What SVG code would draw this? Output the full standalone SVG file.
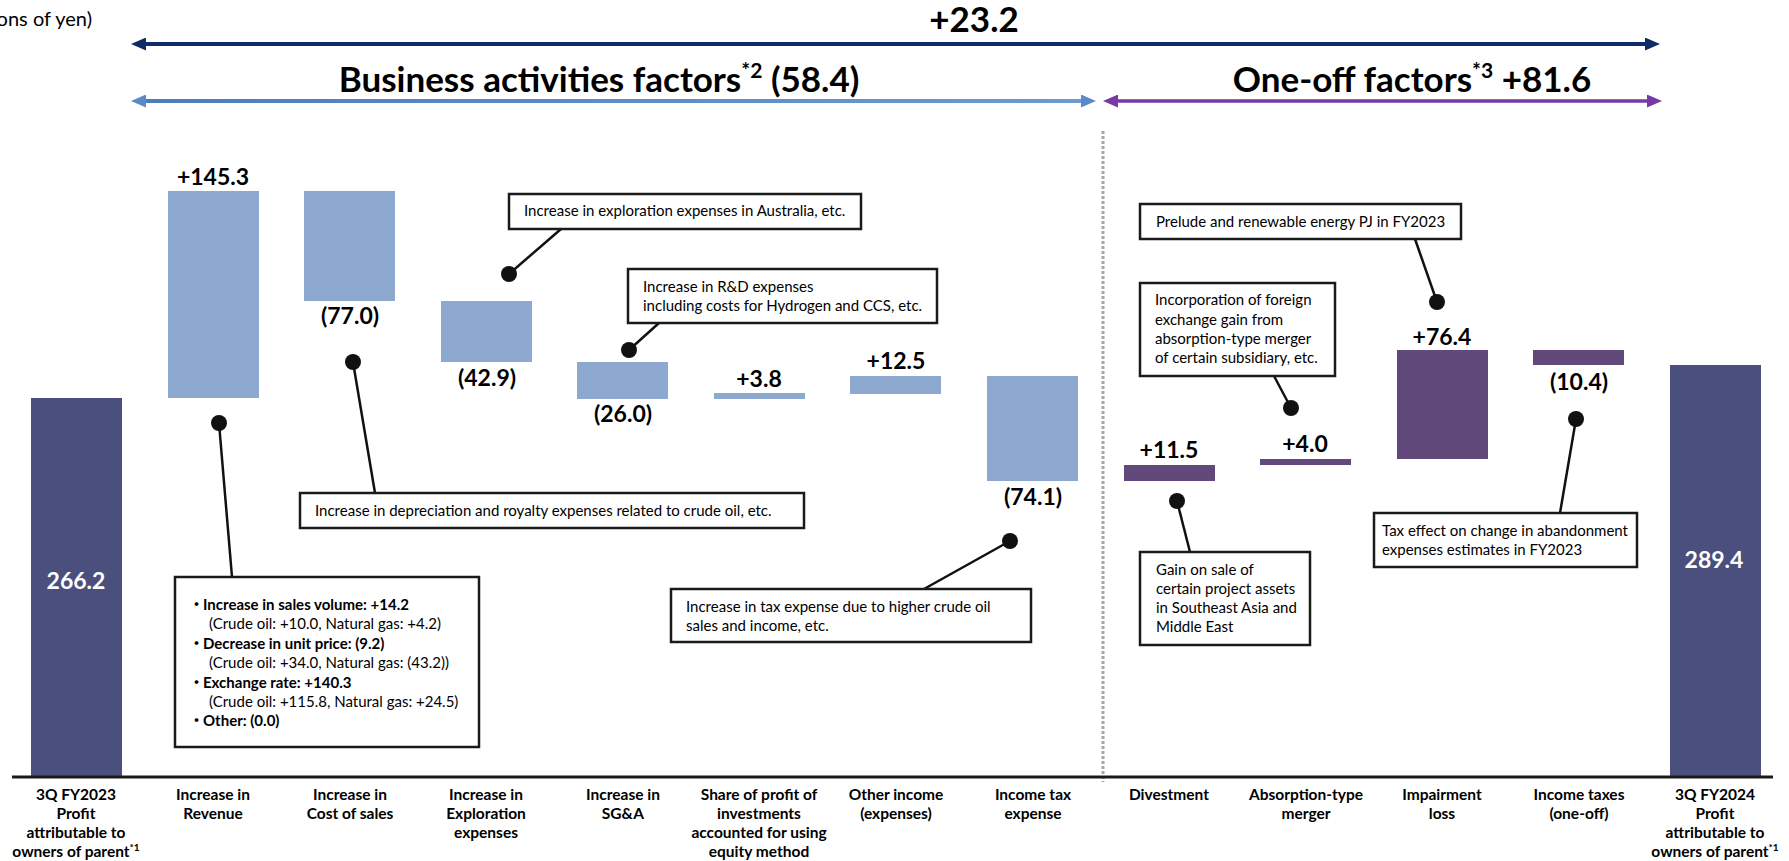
<svg xmlns="http://www.w3.org/2000/svg" width="1789" height="861" viewBox="0 0 1789 861">
<defs>
<style>
text{font-family:Lato,"Liberation Sans",sans-serif;fill:#000}
.t{font-size:35px;font-weight:700}
.v{font-size:23px;font-weight:700;text-anchor:middle}
.vw{fill:#fff}
.c{font-size:15.5px;font-weight:700;text-anchor:middle}
.n{font-size:15px}
.nb{font-size:15px;font-weight:700}
.jp{font-family:"Noto Sans CJK JP",sans-serif}
.lb{fill:#8EA9D0}
.dk{fill:#4B4F7D}
.pu{fill:#614A7B}
.box{fill:#fff;stroke:#1a1a1a;stroke-width:2.5}
.ld{stroke:#111;stroke-width:2.5;fill:none}
.dot{fill:#111}
</style>
<marker id="mNavy" viewBox="0 0 15 13" refX="7" refY="6.5" markerWidth="15" markerHeight="13" markerUnits="userSpaceOnUse" orient="auto-start-reverse"><path d="M0,0 L15,6.5 L0,13 z" fill="#0F2B68"/></marker>
<marker id="mBlue" viewBox="0 0 15 13" refX="7" refY="6.5" markerWidth="15" markerHeight="13" markerUnits="userSpaceOnUse" orient="auto-start-reverse"><path d="M0,0 L15,6.5 L0,13 z" fill="#5B8AC8"/></marker>
<marker id="mPurple" viewBox="0 0 15 13" refX="7" refY="6.5" markerWidth="15" markerHeight="13" markerUnits="userSpaceOnUse" orient="auto-start-reverse"><path d="M0,0 L15,6.5 L0,13 z" fill="#7639A6"/></marker>
<linearGradient id="gBlue" gradientUnits="userSpaceOnUse" x1="131" y1="0" x2="1096" y2="0"><stop offset="0" stop-color="#4A7DBE"/><stop offset="1" stop-color="#6D9AD3"/></linearGradient>
</defs>
<rect width="1789" height="861" fill="#fff"/>

<text x="92" y="26" style="font-size:20px" text-anchor="end">(Billions of yen)</text>

<g id="header-arrows">
<line x1="139" y1="44" x2="1652" y2="44" stroke="#0F2B68" stroke-width="4" marker-start="url(#mNavy)" marker-end="url(#mNavy)"/>
<line x1="139" y1="101" x2="1088" y2="101" stroke="url(#gBlue)" stroke-width="4" marker-start="url(#mBlue)" marker-end="url(#mBlue)"/>
<line x1="1111" y1="101" x2="1654" y2="101" stroke="#7639A6" stroke-width="3.5" marker-start="url(#mPurple)" marker-end="url(#mPurple)"/>
</g>
<g id="total-label"><text class="t" x="974" y="32" text-anchor="middle">+23.2</text></g>
<g id="business-label"><text class="t" x="599" y="92" text-anchor="middle">Business activities factors<tspan font-size="21" dy="-14">*2</tspan><tspan dy="14"> (58.4)</tspan></text></g>
<g id="oneoff-label"><text class="t" x="1412" y="92" text-anchor="middle">One-off factors<tspan font-size="21" dy="-14">*3</tspan><tspan dy="14"> +81.6</tspan></text></g>

<line id="divider" x1="1103" y1="131" x2="1103" y2="782" stroke="#A6A6A6" stroke-width="3" stroke-dasharray="3 2"/>

<g id="bar-fy2023">
<rect class="dk" x="31" y="398" width="91" height="379"/>
<text class="v vw" x="76" y="589">266.2</text>
<text class="c" x="76" y="800">3Q FY2023</text><text class="c" x="76" y="819">Profit</text><text class="c" x="76" y="838">attributable to</text><text class="c" x="76" y="857">owners of parent<tspan font-size="10" dy="-6">*1</tspan></text>
</g>
<g id="bar-revenue">
<rect class="lb" x="168" y="191" width="91" height="207"/>
<text class="v" x="213" y="185">+145.3</text>
<text class="c" x="213" y="800">Increase in</text><text class="c" x="213" y="819">Revenue</text>
</g>
<g id="bar-cost">
<rect class="lb" x="304" y="191" width="91" height="110"/>
<text class="v" x="350" y="324">(77.0)</text>
<text class="c" x="350" y="800">Increase in</text><text class="c" x="350" y="819">Cost of sales</text>
</g>
<g id="bar-exploration">
<rect class="lb" x="441" y="301" width="91" height="61"/>
<text class="v" x="487" y="386">(42.9)</text>
<text class="c" x="486" y="800">Increase in</text><text class="c" x="486" y="819">Exploration</text><text class="c" x="486" y="838">expenses</text>
</g>
<g id="bar-sga">
<rect class="lb" x="577" y="362" width="91" height="37"/>
<text class="v" x="623" y="422">(26.0)</text>
<text class="c" x="623" y="800">Increase in</text><text class="c" x="623" y="819">SG&amp;A</text>
</g>
<g id="bar-equity">
<rect class="lb" x="714" y="393" width="91" height="6"/>
<text class="v" x="759" y="387">+3.8</text>
<text class="c" x="759" y="800">Share of profit of</text><text class="c" x="759" y="819">investments</text><text class="c" x="759" y="838">accounted for using</text><text class="c" x="759" y="857">equity method</text>
</g>
<g id="bar-other">
<rect class="lb" x="850" y="376" width="91" height="18"/>
<text class="v" x="896" y="369">+12.5</text>
<text class="c" x="896" y="800">Other income</text><text class="c" x="896" y="819">(expenses)</text>
</g>
<g id="bar-incometax">
<rect class="lb" x="987" y="376" width="91" height="105"/>
<text class="v" x="1033" y="505">(74.1)</text>
<text class="c" x="1033" y="800">Income tax</text><text class="c" x="1033" y="819">expense</text>
</g>
<g id="bar-divestment">
<rect class="pu" x="1124" y="465" width="91" height="16"/>
<text class="v" x="1169" y="458">+11.5</text>
<text class="c" x="1169" y="800">Divestment</text>
</g>
<g id="bar-absorption">
<rect class="pu" x="1260" y="459" width="91" height="6"/>
<text class="v" x="1305" y="452">+4.0</text>
<text class="c" x="1306" y="800">Absorption-type</text><text class="c" x="1306" y="819">merger</text>
</g>
<g id="bar-impairment">
<rect class="pu" x="1397" y="350" width="91" height="109"/>
<text class="v" x="1442" y="345">+76.4</text>
<text class="c" x="1442" y="800">Impairment</text><text class="c" x="1442" y="819">loss</text>
</g>
<g id="bar-incometaxes">
<rect class="pu" x="1533" y="350" width="91" height="15"/>
<text class="v" x="1579" y="390">(10.4)</text>
<text class="c" x="1579" y="800">Income taxes</text><text class="c" x="1579" y="819">(one-off)</text>
</g>
<g id="bar-fy2024">
<rect class="dk" x="1670" y="365" width="91" height="412"/>
<text class="v vw" x="1714" y="568">289.4</text>
<text class="c" x="1715" y="800">3Q FY2024</text><text class="c" x="1715" y="819">Profit</text><text class="c" x="1715" y="838">attributable to</text><text class="c" x="1715" y="857">owners of parent<tspan font-size="10" dy="-6">*1</tspan></text>
</g>

<line id="axis" x1="12" y1="777" x2="1773" y2="777" stroke="#1a1a1a" stroke-width="3"/>

<g id="connectors">
<path class="ld" d="M219,423 L232,577"/><circle class="dot" cx="219" cy="423" r="8"/>
<path class="ld" d="M353,362 L375,493"/><circle class="dot" cx="353" cy="362" r="8"/>
<path class="ld" d="M509,274 L561,229"/><circle class="dot" cx="509" cy="274" r="8"/>
<path class="ld" d="M629,350 L659,323"/><circle class="dot" cx="629" cy="350" r="8"/>
<path class="ld" d="M1010,541 L924,589"/><circle class="dot" cx="1010" cy="541" r="8"/>
<path class="ld" d="M1177,501 L1190,552"/><circle class="dot" cx="1177" cy="501" r="8"/>
<path class="ld" d="M1291,408 L1274,376"/><circle class="dot" cx="1291" cy="408" r="8"/>
<path class="ld" d="M1437,302 L1415,239"/><circle class="dot" cx="1437" cy="302" r="8"/>
<path class="ld" d="M1576,419 L1560,513"/><circle class="dot" cx="1576" cy="419" r="8"/>
</g>

<g id="note-revenue">
<rect class="box" x="175" y="577" width="304" height="170"/>
<text class="nb" x="189" y="610"><tspan class="jp">・</tspan><tspan x="203">Increase in sales volume: +14.2</tspan></text>
<text class="n" x="209" y="629">(Crude oil: +10.0, Natural gas: +4.2)</text>
<text class="nb" x="189" y="649"><tspan class="jp">・</tspan><tspan x="203">Decrease in unit price: (9.2)</tspan></text>
<text class="n" x="209" y="668">(Crude oil: +34.0, Natural gas: (43.2))</text>
<text class="nb" x="189" y="688"><tspan class="jp">・</tspan><tspan x="203">Exchange rate: +140.3</tspan></text>
<text class="n" x="209" y="707">(Crude oil: +115.8, Natural gas: +24.5)</text>
<text class="nb" x="189" y="726"><tspan class="jp">・</tspan><tspan x="203">Other: (0.0)</tspan></text>
</g>
<g id="note-cost">
<rect class="box" x="300" y="493" width="504" height="35"/>
<text class="n" x="315" y="516">Increase in depreciation and royalty expenses related to crude oil, etc.</text>
</g>
<g id="note-exploration">
<rect class="box" x="509" y="194" width="352" height="35"/>
<text class="n" x="524" y="216">Increase in exploration expenses in Australia, etc.</text>
</g>
<g id="note-rd">
<rect class="box" x="628" y="269" width="309" height="54"/>
<text class="n" x="643" y="292">Increase in R&amp;D expenses</text>
<text class="n" x="643" y="311">including costs for Hydrogen and CCS, etc.</text>
</g>
<g id="note-tax">
<rect class="box" x="671" y="589" width="360" height="53"/>
<text class="n" x="686" y="612">Increase in tax expense due to higher crude oil</text>
<text class="n" x="686" y="631">sales and income, etc.</text>
</g>
<g id="note-prelude">
<rect class="box" x="1140" y="204" width="321" height="35"/>
<text class="n" x="1156" y="227">Prelude and renewable energy PJ in FY2023</text>
</g>
<g id="note-incorporation">
<rect class="box" x="1140" y="283" width="195" height="93"/>
<text class="n" x="1155" y="305">Incorporation of foreign</text>
<text class="n" x="1155" y="325">exchange gain from</text>
<text class="n" x="1155" y="344">absorption-type merger</text>
<text class="n" x="1155" y="363">of certain subsidiary, etc.</text>
</g>
<g id="note-gain">
<rect class="box" x="1140" y="552" width="170" height="93"/>
<text class="n" x="1156" y="575">Gain on sale of</text>
<text class="n" x="1156" y="594">certain project assets</text>
<text class="n" x="1156" y="613">in Southeast Asia and</text>
<text class="n" x="1156" y="632">Middle East</text>
</g>
<g id="note-taxeffect">
<rect class="box" x="1374" y="513" width="263" height="54"/>
<text class="n" x="1382" y="536">Tax effect on change in abandonment</text>
<text class="n" x="1382" y="555">expenses estimates in FY2023</text>
</g>
</svg>
